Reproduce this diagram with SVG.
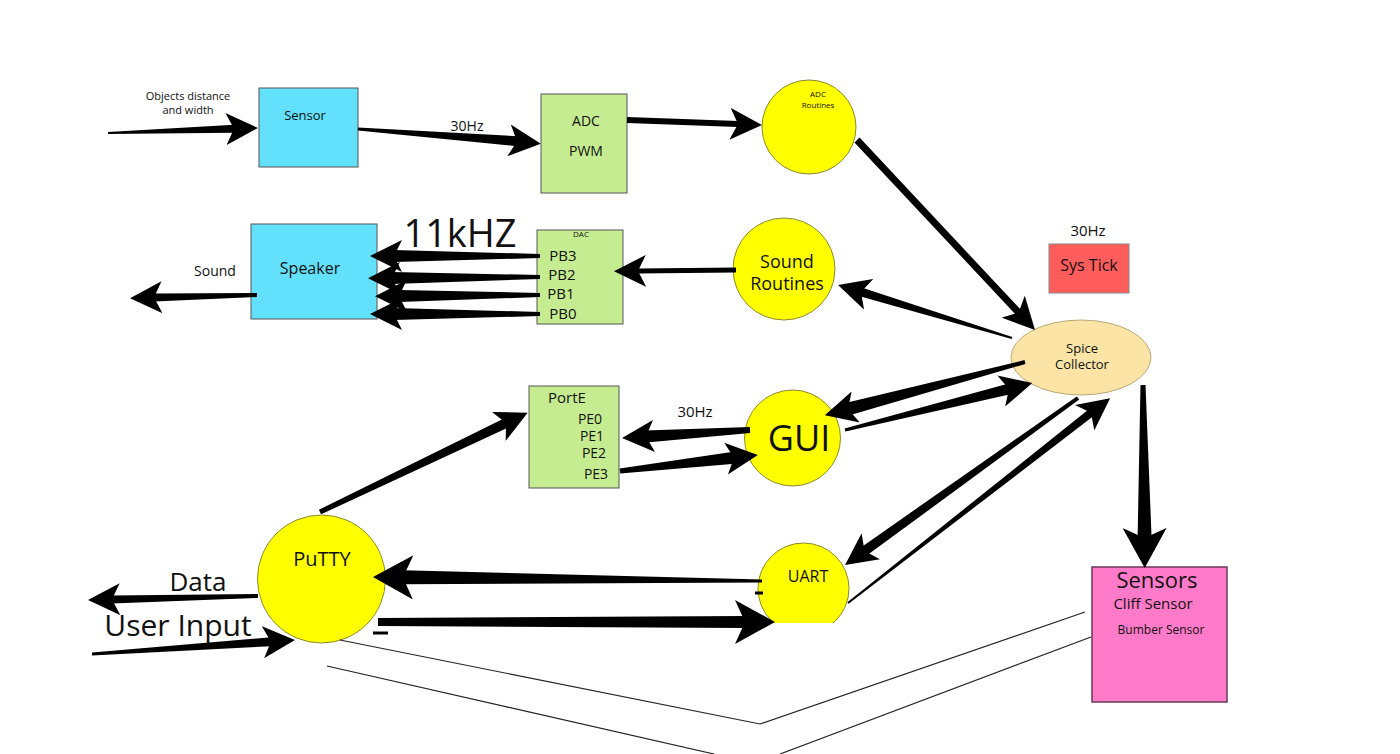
<svg xmlns="http://www.w3.org/2000/svg" width="1400" height="754" viewBox="0 0 1400 754">
<style>
text{font-family:"Open Sans","Noto Sans","Liberation Sans",sans-serif;fill:#111;text-anchor:middle}
.box{stroke:#555;stroke-width:1}
.cyan{fill:#62e0fc}
.green{fill:#c6ec92}
.yel{fill:#ffff00;stroke:#8a8a30;stroke-width:1}
.a{stroke:#000;fill:none;stroke-linecap:butt}
.s{fill:#000;stroke:none}
.thin{stroke:#222;stroke-width:1.2;fill:none}
</style>
<defs>
<marker id="md" markerUnits="userSpaceOnUse" markerWidth="32" markerHeight="32" refX="8" refY="16" orient="auto"><path d="M0,0 L32,16 L0,32 L8,16 Z" fill="#000"/></marker>
<marker id="lg" markerUnits="userSpaceOnUse" markerWidth="40" markerHeight="44" refX="10" refY="22" orient="auto"><path d="M0,0 L40,22 L0,44 L10,22 Z" fill="#000"/></marker>
<clipPath id="uartclip"><rect x="700" y="500" width="200" height="123"/></clipPath>
</defs>
<rect width="1400" height="754" fill="#fff"/>

<g id="sensor"><rect class="box cyan" x="259" y="88" width="99" height="79"/><text x="305" y="120" font-size="13">Sensor</text></g>
<g id="input-label"><text x="188" y="100" font-size="11">Objects distance</text><text x="188" y="114" font-size="11">and width</text></g>
<g id="adc"><rect class="box green" x="541" y="94" width="86" height="99"/><text x="586" y="126" font-size="14">ADC</text><text x="586" y="156" font-size="14">PWM</text></g>
<g id="adc-routines"><circle class="yel" cx="809" cy="127" r="47"/><text x="818" y="97" font-size="8">ADC</text><text x="818" y="108" font-size="8">Routines</text></g>
<g id="speaker"><rect class="box cyan" x="251" y="224" width="126" height="95"/><text x="310" y="274" font-size="16">Speaker</text></g>
<g id="sound-label"><text x="215" y="276" font-size="14">Sound</text></g>
<g id="freq"><text x="460" y="247" font-size="38">11kHZ</text></g>
<g id="dac"><rect class="box green" x="537" y="230" width="86" height="94"/><text x="581" y="237" font-size="8">DAC</text>
<text x="563" y="261" font-size="15">PB3</text><text x="562" y="280" font-size="15">PB2</text><text x="561" y="299" font-size="15">PB1</text><text x="563" y="319" font-size="15">PB0</text></g>
<g id="sound-routines"><circle class="yel" cx="784" cy="269" r="51"/><text x="787" y="268" font-size="18">Sound</text><text x="787" y="290" font-size="18">Routines</text></g>
<g id="systick"><text x="1088" y="236" font-size="15">30Hz</text><rect x="1049" y="244" width="80" height="49" fill="#ff5c5c" stroke="#888" stroke-width="1"/><text x="1089" y="271" font-size="16">Sys Tick</text></g>
<g id="spice"><ellipse cx="1081" cy="357.5" rx="70" ry="37.5" fill="#fbe4a6" stroke="#b8a878" stroke-width="1"/><text x="1082" y="353" font-size="13">Spice</text><text x="1082" y="369" font-size="13">Collector</text></g>
<g id="porte"><rect class="box green" x="529" y="386" width="90" height="102"/><text x="567" y="403" font-size="15">PortE</text><text x="590" y="424" font-size="14">PE0</text><text x="592" y="441" font-size="14">PE1</text><text x="594" y="458" font-size="14">PE2</text><text x="596" y="479" font-size="14">PE3</text></g>
<g id="gui"><circle class="yel" cx="792.5" cy="438" r="48"/><text x="799" y="451" font-size="36">GUI</text></g>
<g id="gui-freq"><text x="695" y="417" font-size="15">30Hz</text></g>
<g id="putty"><circle class="yel" cx="321.5" cy="579" r="64"/><text x="322" y="566" font-size="20">PuTTY</text></g>
<g id="data-labels"><text x="198" y="591" font-size="26">Data</text><text x="178" y="636" font-size="30">User Input</text></g>
<g id="uart"><circle class="yel" cx="803.5" cy="588.5" r="45.5" clip-path="url(#uartclip)"/><text x="808" y="582" font-size="16">UART</text></g>
<g id="sensors"><rect x="1092" y="567" width="135" height="135" fill="#ff7ac8" stroke="#6a3a5a" stroke-width="1.5"/><text x="1157" y="588" font-size="22">Sensors</text><text x="1153" y="609" font-size="15">Cliff Sensor</text><text x="1161" y="634" font-size="12">Bumber Sensor</text></g>

<g id="connectors">
<polygon class="s" points="108,132 234,124.8 234,132.8 108,134"/>
<line class="a" x1="200" y1="130" x2="234" y2="128.8" stroke-width="1" marker-end="url(#md)"/>
<polygon class="s" points="358.1,127.5 517.4,136.2 516.6,146.2 357.9,130.5"/>
<line class="a" x1="450" y1="134" x2="517" y2="141.2" stroke-width="1" marker-end="url(#md)"/>
<text x="467" y="131" font-size="14">30Hz</text>
<line class="a" x1="627" y1="120" x2="738" y2="124.1" stroke-width="6" marker-end="url(#md)"/>
<line class="a" x1="857" y1="140" x2="1018.6" y2="312.5" stroke-width="7" marker-end="url(#md)"/>
<polygon class="s" points="257,293 154,293.4 154,301.4 257,297"/>
<line class="a" x1="200" y1="296" x2="154" y2="297.4" stroke-width="1" marker-end="url(#md)"/>
<polygon class="s" points="540,254 394,250 394,262 540,258"/>
<line class="a" x1="450" y1="256" x2="394" y2="256" stroke-width="1" marker-end="url(#md)"/>
<polygon class="s" points="540,275 392,272 392,284 540,279"/>
<line class="a" x1="450" y1="277.6" x2="392" y2="278" stroke-width="1" marker-end="url(#md)"/>
<polygon class="s" points="540,293 399,290 399,302 540,297"/>
<line class="a" x1="450" y1="295.6" x2="399" y2="296" stroke-width="1" marker-end="url(#md)"/>
<polygon class="s" points="540,312 394,308 394,320 540,316"/>
<line class="a" x1="450" y1="314" x2="394" y2="314" stroke-width="1" marker-end="url(#md)"/>
<line class="a" x1="736" y1="270" x2="638" y2="271" stroke-width="5" marker-end="url(#md)"/>
<polygon class="s" points="1012.3,337 862.3,287.7 859.7,296.3 1011.7,339"/>
<line class="a" x1="900" y1="303.7" x2="861" y2="292" stroke-width="1" marker-end="url(#md)"/>
<polygon class="s" points="749.8,427 645.6,430.5 646.4,442.5 750.2,433"/>
<line class="a" x1="700" y1="433.1" x2="646" y2="436.5" stroke-width="1" marker-end="url(#md)"/>
<polygon class="s" points="620.3,473.5 734.7,463.8 733.3,451.8 619.7,468.5"/>
<line class="a" x1="680" y1="464.1" x2="734" y2="457.8" stroke-width="1" marker-end="url(#md)"/>
<polygon class="s" points="1024.5,360.1 846.3,402.7 849.7,415.3 1025.5,363.9"/>
<line class="a" x1="900" y1="395.2" x2="848" y2="409" stroke-width="1" marker-end="url(#md)"/>
<polygon class="s" points="845.4,431.5 1010.3,394.3 1007.7,383.7 844.6,428.5"/>
<line class="a" x1="950" y1="403.9" x2="1009" y2="389" stroke-width="1" marker-end="url(#md)"/>
<polygon class="s" points="321.1,514.3 508.2,427.5 503.9,418.5 318.9,509.7"/>
<line class="a" x1="450" y1="449.7" x2="506" y2="423" stroke-width="1" marker-end="url(#md)"/>
<polygon class="s" points="258,594 112,595.4 112,603.4 258,598"/>
<line class="a" x1="180" y1="597.8" x2="112" y2="599.4" stroke-width="1" marker-end="url(#md)"/>
<polygon class="s" points="92,652.5 271,637.2 271,646.2 92,655.5"/>
<line class="a" x1="200" y1="646.6" x2="271" y2="641.7" stroke-width="1" marker-end="url(#md)"/>
<polygon class="s" points="762,579.5 403,570.3 403,584.3 762,582.5"/>
<line class="a" x1="500" y1="578.3" x2="403" y2="577.3" stroke-width="1" marker-end="url(#lg)"/>
<polygon class="s" points="378,618 745,616 745,628 378,626"/>
<line class="a" x1="600" y1="622" x2="745" y2="622" stroke-width="1" marker-end="url(#lg)"/>
<polygon class="s" points="1076.8,396.4 861.6,546.9 867.4,555.1 1079.2,399.6"/>
<line class="a" x1="930" y1="503.9" x2="864.5" y2="551" stroke-width="1" marker-end="url(#md)"/>
<polygon class="s" points="848.6,603.8 1093.5,416 1088.5,409.6 847.4,602.2"/>
<line class="a" x1="1000" y1="482" x2="1091" y2="412.8" stroke-width="1" marker-end="url(#md)"/>
<polygon class="s" points="1140.5,385 1137.6,538 1151.6,538 1145.5,385"/>
<line class="a" x1="1144.4" y1="480" x2="1144.6" y2="538" stroke-width="1" marker-end="url(#lg)"/>
<line stroke="#000" stroke-width="3" x1="373" y1="633" x2="388" y2="633"/>
<line stroke="#000" stroke-width="3" x1="755" y1="593" x2="763" y2="593"/>
<polyline class="thin" points="340,640 760,724 1085,612"/>
<line class="thin" x1="327" y1="666" x2="714" y2="754"/>
<line class="thin" x1="780" y1="754" x2="1091" y2="637"/>
</g>
</svg>
